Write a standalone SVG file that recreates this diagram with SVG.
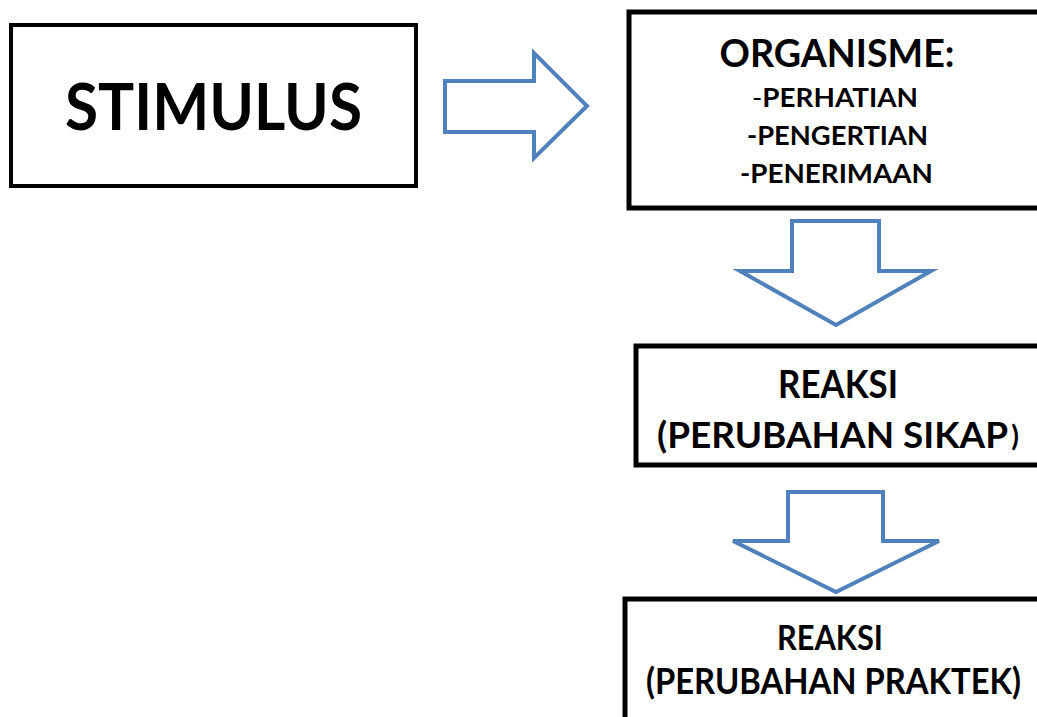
<svg xmlns="http://www.w3.org/2000/svg" width="1037" height="717" viewBox="0 0 1037 717">
<style>
.box{fill:#fff;stroke:#000;stroke-width:5}
.arr{fill:#fff;stroke:#4F81BD;stroke-width:4;stroke-linejoin:miter}
text{font-family:Lato,"Open Sans","Liberation Sans",sans-serif;font-weight:bold;fill:#000;text-anchor:middle}
</style>
<rect width="1037" height="717" fill="#fff"/>
<g id="connectors">
<path class="arr" d="M445,81 L534,81 L534,53 L587,106 L534,158 L534,132 L445,132 Z"/>
<path class="arr" d="M792,221 L879,221 L879,271 L931,271 L836,325 L740,271 L792,271 Z"/>
<path class="arr" d="M788,492 L883,492 L883,541 L939,541 L836,592 L733,541 L788,541 Z"/>
</g>
<g id="stimulus">
<rect class="box" x="11" y="25" width="405" height="161" style="stroke-width:4"/>
<text x="213.5" y="130" font-size="65" textLength="297" lengthAdjust="spacingAndGlyphs">STIMULUS</text>
</g>
<g id="organisme">
<rect class="box" x="629" y="12" width="420" height="196"/>
<text x="837" y="67" font-size="38" textLength="235" lengthAdjust="spacingAndGlyphs">ORGANISME:</text>
<text x="835" y="107" font-size="27" textLength="166" lengthAdjust="spacingAndGlyphs"><tspan font-weight="normal">-</tspan>PERHATIAN</text>
<text x="837.5" y="145" font-size="27" textLength="181" lengthAdjust="spacingAndGlyphs">-PENGERTIAN</text>
<text x="836.5" y="183" font-size="27" textLength="193" lengthAdjust="spacingAndGlyphs">-PENERIMAAN</text>
</g>
<g id="reaksi-sikap">
<rect class="box" x="636" y="346" width="410" height="119"/>
<text x="838" y="398" font-size="38" textLength="120" lengthAdjust="spacingAndGlyphs">REAKSI</text>
<text x="832.5" y="448" font-size="37" textLength="351" lengthAdjust="spacingAndGlyphs">(PERUBAHAN SIKAP</text>
<text x="1015" y="446" font-size="28">)</text>
</g>
<g id="reaksi-praktek">
<rect class="box" x="625" y="599" width="420" height="130"/>
<text x="830" y="650" font-size="35" textLength="106" lengthAdjust="spacingAndGlyphs">REAKSI</text>
<text x="833.5" y="694" font-size="37" textLength="375" lengthAdjust="spacingAndGlyphs">(PERUBAHAN PRAKTEK)</text>
</g>
</svg>
